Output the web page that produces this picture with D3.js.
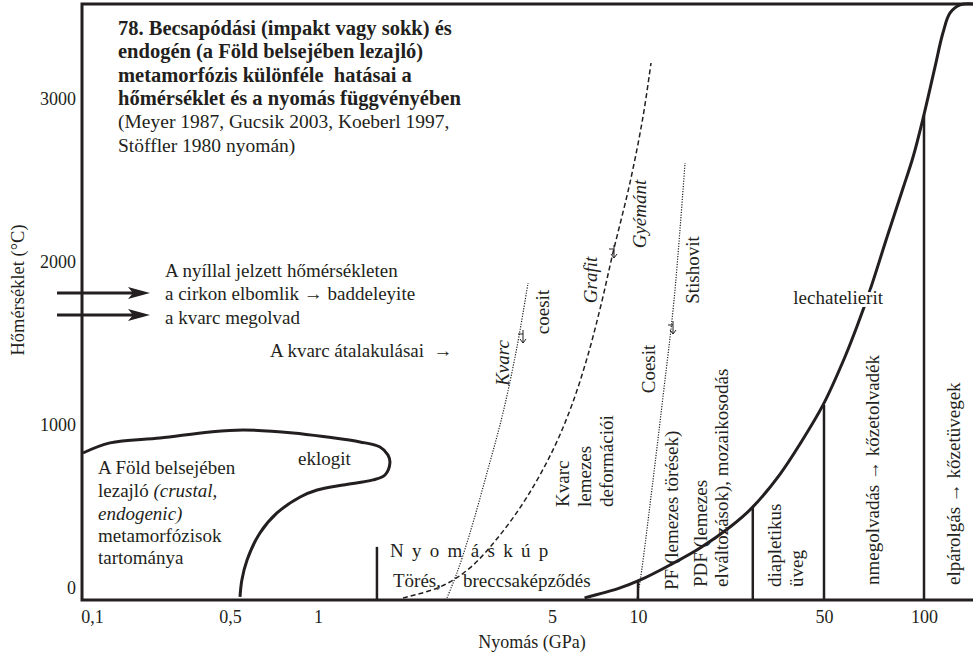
<!DOCTYPE html>
<html>
<head>
<meta charset="utf-8">
<script src="https://cdn.jsdelivr.net/npm/d3@7"></script>
<style>
  html, body { margin: 0; padding: 0; background: #fff; }
  svg { display: block; font-family: "Liberation Serif", "Times New Roman", serif; }
  text { white-space: pre; }
</style>
</head>
<body>
<svg id="chart" width="973" height="655"></svg>
<script>
// ---- axis ticks ----
const xTickValues = [0.1, 0.5, 1, 5, 10, 50, 100];
const xTickLabels = ["0,1", "0,5", "1", "5", "10", "50", "100"];
const yTickValues = [0, 1000, 2000, 3000];
const yTickLabels = ["0", "1000", "2000", "3000"];

// ---- shock-melting boundary (pressure GPa, temperature °C) ----
const meltP = [6.5, 8.65, 10.2, 13.19, 17.11, 22.18, 26.8, 34.2, 40.6, 49.6, 57.8, 62.9, 68.8, 77.4, 86.5, 92.7, 99.4, 107.9, 114, 119.8, 128.4, 140.4];
const meltT = [-61, 0, 49, 141, 245, 374, 491, 699, 883, 1123, 1417, 1607, 1828, 2153, 2454, 2644, 2883, 3196, 3405, 3528, 3577, 3583];

// ---- crustal (endogenic) metamorphism field outline ----
const crustP = [0.090, 0.1234, 0.221, 0.396, 0.554, 0.822, 1.064, 1.335, 1.532, 1.618, 1.64, 1.585, 1.46, 1.188, 0.993, 0.869, 0.724, 0.633, 0.572, 0.549, 0.541];
const crustT = [828, 890, 920, 957, 969, 951, 926, 896, 865, 816, 767, 693, 663, 632, 601, 558, 460, 337, 172, 49, -55];

// ---- graphite -> diamond transition (dashed) ----
const diamondP = [1.794, 2.314, 2.844, 3.497, 4.21, 5.04, 5.87, 6.68, 7.42, 8.17, 9.37, 10.44, 11.19];
const diamondT = [-61, 6, 123, 325, 558, 847, 1123, 1429, 1736, 2055, 2485, 2890, 3221];

// ---- quartz -> coesite transition (dotted) ----
const coesiteP = [2.428, 2.60, 2.844, 3.197, 3.569, 3.93, 4.24];
const coesiteT = [-61, 92, 337, 706, 1074, 1479, 1871];

// ---- coesite -> stishovite transition (dotted) ----
const stishoviteP = [9.92, 10.2, 11.39, 12.41, 13.66, 15.02];
const stishoviteT = [-61, 49, 663, 1172, 1767, 2607];

// ---- shock stage boundaries: pressure and upper temperature ----
const stageP = [1.5, 10, 27, 50, 100];
const stageTopT = [252, 49, 491, 1123, 2902];

// ---- temperatures marked by the arrows on the left ----
const arrowT = [1810, 1675];

// ---------------------------------------------------------------
const INK = "#231f20";
const FS = 19;
const svg = d3.select("#chart");

const plot = { left: 82, right: 973, top: 4, bottom: 600 };

const x = d3.scaleLog()
  .domain(xTickValues)
  .range([92, 230, 318, 552, 638, 824, 924]);
const y = d3.scaleLinear()
  .domain([-74, 3583])
  .range([plot.bottom, plot.top]);

const zip = (P, T) => P.map((p, i) => [p, T[i]]);
const line = d3.line().x(d => x(d[0])).y(d => y(d[1])).curve(d3.curveCatmullRom.alpha(0.5));

// ---- axes ----
const xAxis = d3.axisBottom(x)
  .tickValues(xTickValues)
  .tickFormat((d, i) => xTickLabels[i])
  .tickSize(0).tickPadding(10);
svg.append("g")
  .attr("transform", `translate(0,${plot.bottom})`)
  .call(xAxis)
  .call(g => g.select(".domain").remove())
  .attr("font-family", null).attr("font-size", 18)
  .selectAll("text").attr("fill", INK);

const yAxis = d3.axisLeft(y)
  .tickValues(yTickValues)
  .tickFormat((d, i) => yTickLabels[i])
  .tickSize(0).tickPadding(6);
svg.append("g")
  .attr("transform", `translate(${plot.left},0)`)
  .call(yAxis)
  .call(g => g.select(".domain").remove())
  .attr("font-family", null).attr("font-size", 18)
  .selectAll("text").attr("fill", INK);

// axis titles
svg.append("text")
  .attr("x", 532).attr("y", 642).attr("dy", "0.35em")
  .attr("text-anchor", "middle").attr("font-size", 18).attr("fill", INK)
  .text("Nyomás (GPa)");
svg.append("text")
  .attr("transform", "translate(18,290) rotate(-90)")
  .attr("dy", "0.35em")
  .attr("text-anchor", "middle").attr("font-size", 18.5).attr("fill", INK)
  .text("Hőmérséklet (°C)");

// ---- text helpers ----
function hText(px, py, anchor, parts, opts = {}) {
  const t = svg.append("text")
    .attr("x", px).attr("y", py).attr("dy", "0.35em")
    .attr("text-anchor", anchor)
    .attr("font-size", opts.size || FS)
    .attr("font-weight", opts.bold ? "bold" : null)
    .attr("fill", INK);
  parts.forEach(p => t.append("tspan")
    .attr("font-style", p.italic ? "italic" : null)
    .text(p.text));
  return t;
}
function vText(px, py, anchor, parts, opts = {}) {
  const t = svg.append("text")
    .attr("transform", `translate(${px},${py}) rotate(-90)`)
    .attr("dy", "0.35em")
    .attr("text-anchor", anchor)
    .attr("font-size", opts.size || FS)
    .attr("fill", INK);
  parts.forEach(p => t.append("tspan")
    .attr("font-style", p.italic ? "italic" : null)
    .text(p.text));
  return t;
}
const R = s => ({ text: s });
const I = s => ({ text: s, italic: true });

// ---- title block ----
const titleBold = [
  "78. Becsapódási (impakt vagy sokk) és",
  "endogén (a Föld belsejében lezajló)",
  "metamorfózis különféle  hatásai a",
  "hőmérséklet és a nyomás függvényében"
];
const titleNormal = [
  "(Meyer 1987, Gucsik 2003, Koeberl 1997,",
  "Stöffler 1980 nyomán)"
];
titleBold.forEach((s, i) => hText(118, 28 + i * 23.3, "start", [R(s)], { bold: true, size: 20.5 }));
titleNormal.forEach((s, i) => hText(118, 121.5 + i * 23.3, "start", [R(s)], { size: 19.5 }));

// ---- arrow annotation ----
hText(165, 270, "start", [R("A nyíllal jelzett hőmérsékleten")]);
hText(165, 293, "start", [R("a cirkon elbomlik → baddeleyite")]);
hText(165, 317, "start", [R("a kvarc megolvad")]);
hText(270, 350, "start", [R("A kvarc átalakulásai  →")]);

arrowT.forEach(t => {
  const yy = y(t), tip = 150, tail = 57;
  svg.append("line")
    .attr("x1", tail).attr("x2", tip - 14).attr("y1", yy).attr("y2", yy)
    .attr("stroke", INK).attr("stroke-width", 3);
  svg.append("path")
    .attr("d", `M${tip},${yy} L${tip - 22},${yy - 6} L${tip - 17},${yy} L${tip - 22},${yy + 6} Z`)
    .attr("fill", INK);
});

// ---- crustal field text ----
hText(98, 467, "start", [R("A Föld belsejében")]);
hText(98, 490, "start", [R("lezajló "), I("(crustal,")]);
hText(98, 513, "start", [I("endogenic)")]);
hText(98, 535, "start", [R("metamorfózisok")]);
hText(98, 557, "start", [R("tartománya")]);
hText(298, 458, "start", [R("eklogit")]);

// ---- shock stage labels ----
hText(390, 550, "start", [R("Nyomáskúp")]).attr("letter-spacing", 8.3);
hText(393, 580, "start", [R("Törés,")]);
hText(463, 580, "start", [R("breccsaképződés")]);

vText(502, 363, "middle", [I("Kvarc")]);
vText(542, 312, "middle", [R("coesit")]);
vText(590, 280, "middle", [I("Grafit")]);
vText(639, 214, "middle", [I("Gyémánt")]);
vText(648, 369, "middle", [R("Coesit")]);
vText(692, 270, "middle", [R("Stishovit")]);

// small transition arrows between the mineral names
[[523, 337], [614, 252], [673, 328]].forEach(([ax, ay]) => {
  svg.append("path")
    .attr("d", `M${ax},${ay - 7} V${ay + 6} M${ax - 3},${ay + 2} L${ax},${ay + 6} L${ax + 3},${ay + 2} M${ax - 5},${ay - 3} H${ax}`)
    .attr("fill", "none").attr("stroke", INK).attr("stroke-width", 1);
});

vText(562, 507, "start", [R("Kvarc")]);
vText(584, 507, "start", [R("lemezes")]);
vText(606, 507, "start", [R("deformációi")]);
vText(671, 590, "start", [R("PF (lemezes törések)")]);
vText(700, 587, "start", [R("PDF (lemezes")]);
vText(721, 587, "start", [R("elváltozások), mozaikosodás")]);
vText(774, 587, "start", [R("diapletikus")]);
vText(796, 587, "start", [R("üveg")]);
vText(872, 585, "start", [R("nmegolvadás → kőzetolvadék")]);
vText(953, 585, "start", [R("elpárolgás → kőzetüvegek")]);

// ---- phase transition curves ----
[zip(coesiteP, coesiteT), zip(stishoviteP, stishoviteT)].forEach(pts => {
  svg.append("path").datum(pts)
    .attr("d", line).attr("fill", "none")
    .attr("stroke", INK).attr("stroke-width", 1.2).attr("stroke-dasharray", "1.2,1.4");
});
svg.append("path").datum(zip(diamondP, diamondT))
  .attr("d", line).attr("fill", "none")
  .attr("stroke", INK).attr("stroke-width", 1.5).attr("stroke-dasharray", "5,3");

// ---- crustal metamorphism outline ----
svg.append("path").datum(zip(crustP, crustT))
  .attr("d", line).attr("fill", "none")
  .attr("stroke", INK).attr("stroke-width", 3);

// ---- shock stage boundaries ----
stageP.forEach((p, i) => {
  svg.append("line")
    .attr("x1", x(p)).attr("x2", x(p))
    .attr("y1", plot.bottom).attr("y2", y(stageTopT[i]))
    .attr("stroke", INK).attr("stroke-width", 2.5);
});

// ---- melting boundary ----
svg.append("path").datum(zip(meltP, meltT))
  .attr("d", line).attr("fill", "none")
  .attr("stroke", INK).attr("stroke-width", 3);

hText(883, 297, "end", [R("lechatelierit")])
  .attr("stroke", "#fff").attr("stroke-width", 6)
  .attr("paint-order", "stroke").attr("stroke-linejoin", "round");

// ---- frame ----
svg.append("path")
  .attr("d", `M${plot.right},${plot.top} H${plot.left} V${plot.bottom} H${plot.right}`)
  .attr("fill", "none").attr("stroke", INK).attr("stroke-width", 3);
</script>
</body>
</html>
